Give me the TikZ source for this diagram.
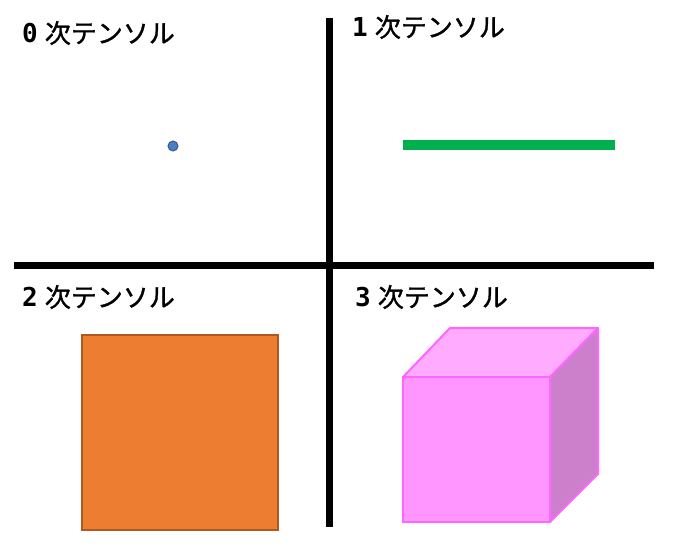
\documentclass[tikz,border=0pt]{standalone}
\usepackage{fontspec}
\newfontfamily\jpfont[FakeBold=1.2]{Noto Sans CJK JP}
\newfontfamily\numfont{DejaVu Sans Mono}
\usetikzlibrary{positioning}
\definecolor{dotCol}{rgb}{0.29, 0.50, 0.76}
\definecolor{dotEdge}{rgb}{0.20, 0.36, 0.58}
\definecolor{vecCol}{rgb}{0, 0.69, 0.31}
\definecolor{matCol}{rgb}{0.93, 0.49, 0.19}
\definecolor{matEdge}{rgb}{0.68, 0.35, 0.13}
\definecolor{cubeFront}{rgb}{1, 0.59, 1}
\definecolor{cubeTop}{rgb}{1, 0.67, 1}
\definecolor{cubeSide}{rgb}{0.80, 0.50, 0.80}
\definecolor{cubeEdge}{rgb}{1, 0.40, 1}
\newcommand{\rank}[1]{{\numfont\bfseries #1}\hspace{7pt}次テンソル}

\begin{document}
\begin{tikzpicture}[x=1pt,y=-1pt,
    label/.style={anchor=west, inner sep=0pt, font=\jpfont\fontsize{26}{26}\selectfont}]
      \useasboundingbox (0,0) rectangle (677,552);
%      \draw [help lines, step=50] (0,0) grid (677,552);
      % axes
      \draw [-,line width=7] (329,18) -- (329,527);
      \draw [-,line width=7] (14,265) -- (654,265);
      % labels
      \node [label] (t0) at (22,33) {\rank{0}};
      \node [label] (t1) at (352,27) {\rank{1}};
      \node [label] (t2) at (22,297) {\rank{2}};
      \node [label] (t3) at (355,297) {\rank{3}};
      % rank 0
      \draw [fill=dotCol, draw=dotEdge, line width=1] (173,146) circle (5);
      % rank 1
      \draw [-,line width=10, vecCol] (403,145) -- (615,145);
      % rank 2
      \draw [fill=matCol, draw=matEdge, line width=2] (82,335) rectangle (278,530);
      % rank 3
      \draw [fill=cubeTop, draw=cubeEdge, line width=2, line join=round]
        (403,377) -- (450,328) -- (598,328) -- (550,377) -- cycle;
      \draw [fill=cubeSide, draw=cubeEdge, line width=2, line join=round]
        (550,377) -- (598,328) -- (598,474) -- (550,522) -- cycle;
      \draw [fill=cubeFront, draw=cubeEdge, line width=2]
        (403,377) rectangle (550,522);
    \end{tikzpicture}
\end{document}
